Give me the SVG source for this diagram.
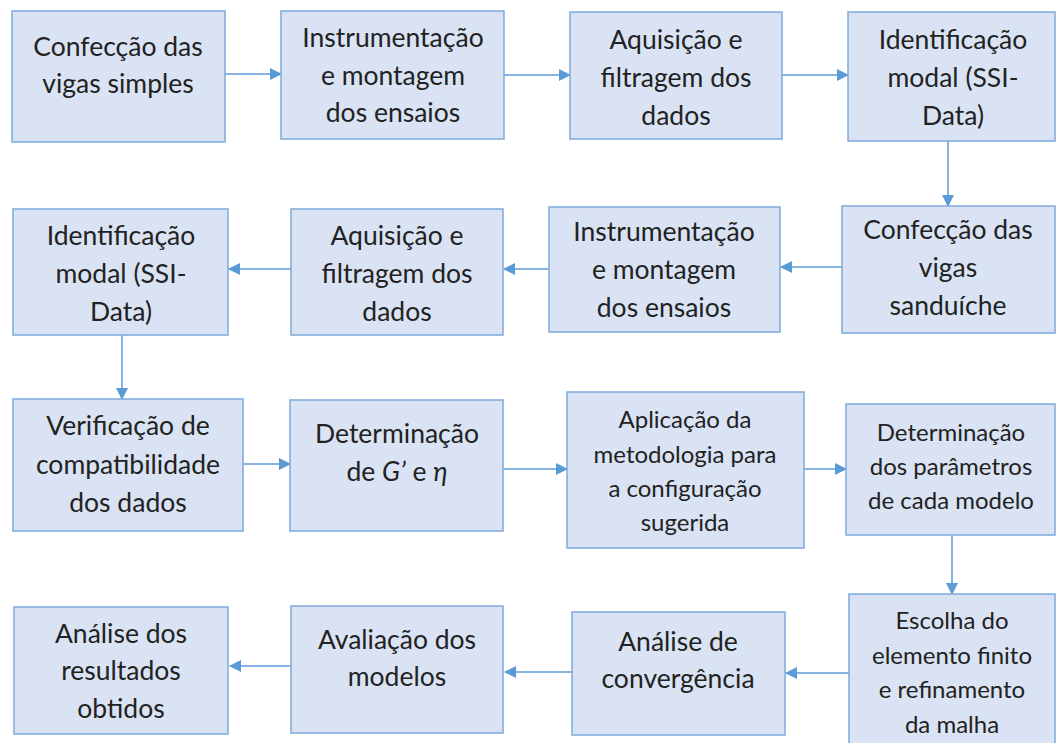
<svg xmlns="http://www.w3.org/2000/svg" width="1056" height="743" viewBox="0 0 1056 743">
<style>
.box{fill:#dae3f3;stroke:#7eaadc;stroke-width:1.5}
.t{font-family:Lato,"Open Sans","Liberation Sans",sans-serif;font-size:26.5px;fill:#222;text-anchor:middle}
.s{font-size:24px}
.c{fill:none;stroke:#5b9bd5;stroke-width:1.5;marker-end:url(#ah)}
</style>
<defs>
<marker id="ah" viewBox="0 0 12 12" refX="11" refY="6" markerWidth="12" markerHeight="12" markerUnits="userSpaceOnUse" orient="auto">
<path d="M0,0 L12,6 L0,12 Z" fill="#5b9bd5"/>
</marker>
</defs>
<rect width="1056" height="743" fill="#fff"/>
<g id="connectors">
<line class="c" x1="225" y1="74" x2="281" y2="74"/>
<line class="c" x1="504" y1="75" x2="570" y2="75"/>
<line class="c" x1="782" y1="75" x2="848" y2="75"/>
<line class="c" x1="948" y1="141" x2="948" y2="206"/>
<line class="c" x1="842" y1="267" x2="781" y2="267"/>
<line class="c" x1="549" y1="269" x2="504" y2="269"/>
<line class="c" x1="291" y1="269" x2="229" y2="269"/>
<line class="c" x1="122" y1="335" x2="122" y2="399"/>
<line class="c" x1="243" y1="464" x2="290" y2="464"/>
<line class="c" x1="503" y1="469" x2="567" y2="469"/>
<line class="c" x1="804" y1="469" x2="846" y2="469"/>
<line class="c" x1="952" y1="535" x2="952" y2="594"/>
<line class="c" x1="849" y1="673" x2="786" y2="673"/>
<line class="c" x1="572" y1="672" x2="505" y2="672"/>
<line class="c" x1="291" y1="666" x2="230" y2="666"/>
</g>
<g id="n1"><rect class="box" x="12" y="11" width="213" height="131"/>
<text class="t" x="118" y="56">Confecção das</text><text class="t" x="118" y="93">vigas simples</text></g>
<g id="n2"><rect class="box" x="281" y="11" width="223" height="128"/>
<text class="t" x="393" y="47">Instrumentação</text><text class="t" x="393" y="85">e montagem</text><text class="t" x="393" y="122">dos ensaios</text></g>
<g id="n3"><rect class="box" x="570" y="12" width="212" height="127"/>
<text class="t" x="676" y="49">Aquisição e</text><text class="t" x="676" y="87">filtragem dos</text><text class="t" x="676" y="125">dados</text></g>
<g id="n4"><rect class="box" x="848" y="12" width="207" height="129"/>
<text class="t" x="953" y="49">Identificação</text><text class="t" x="953" y="87">modal (SSI-</text><text class="t" x="953" y="125">Data)</text></g>
<g id="n5"><rect class="box" x="842" y="206" width="213" height="127"/>
<text class="t" x="948" y="239">Confecção das</text><text class="t" x="948" y="277">vigas</text><text class="t" x="948" y="315">sanduíche</text></g>
<g id="n6"><rect class="box" x="549" y="207" width="231" height="125"/>
<text class="t" x="664" y="241">Instrumentação</text><text class="t" x="664" y="279">e montagem</text><text class="t" x="664" y="317">dos ensaios</text></g>
<g id="n7"><rect class="box" x="291" y="209" width="212" height="126"/>
<text class="t" x="397" y="245">Aquisição e</text><text class="t" x="397" y="283">filtragem dos</text><text class="t" x="397" y="321">dados</text></g>
<g id="n8"><rect class="box" x="13" y="209" width="215" height="126"/>
<text class="t" x="121" y="245">Identificação</text><text class="t" x="121" y="283">modal (SSI-</text><text class="t" x="121" y="321">Data)</text></g>
<g id="n9"><rect class="box" x="13" y="399" width="230" height="132"/>
<text class="t" x="128" y="435">Verificação de</text><text class="t" x="128" y="474">compatibilidade</text><text class="t" x="128" y="512">dos dados</text></g>
<g id="n10"><rect class="box" x="290" y="400" width="213" height="131"/>
<text class="t" x="397" y="443">Determinação</text><text class="t" x="397" y="481">de <tspan font-style="italic">G’</tspan> e <tspan font-style="italic">η</tspan></text></g>
<g id="n11"><rect class="box" x="567" y="392" width="237" height="156"/>
<text class="t s" x="685" y="428">Aplicação da</text><text class="t s" x="685" y="463">metodologia para</text><text class="t s" x="685" y="497">a configuração</text><text class="t s" x="685" y="531">sugerida</text></g>
<g id="n12"><rect class="box" x="846" y="404" width="209" height="131"/>
<text class="t s" x="951" y="441">Determinação</text><text class="t s" x="951" y="475">dos parâmetros</text><text class="t s" x="951" y="509">de cada modelo</text></g>
<g id="n13"><rect class="box" x="849" y="594" width="206" height="160"/>
<text class="t s" x="952" y="629">Escolha do</text><text class="t s" x="952" y="664">elemento finito</text><text class="t s" x="952" y="698">e refinamento</text><text class="t s" x="952" y="733">da malha</text></g>
<g id="n14"><rect class="box" x="572" y="612" width="213" height="123"/>
<text class="t" x="678" y="651">Análise de</text><text class="t" x="678" y="688">convergência</text></g>
<g id="n15"><rect class="box" x="291" y="606" width="212" height="127"/>
<text class="t" x="397" y="649">Avaliação dos</text><text class="t" x="397" y="686">modelos</text></g>
<g id="n16"><rect class="box" x="14" y="607" width="214" height="127"/>
<text class="t" x="121" y="643">Análise dos</text><text class="t" x="121" y="680">resultados</text><text class="t" x="121" y="718">obtidos</text></g>
</svg>
